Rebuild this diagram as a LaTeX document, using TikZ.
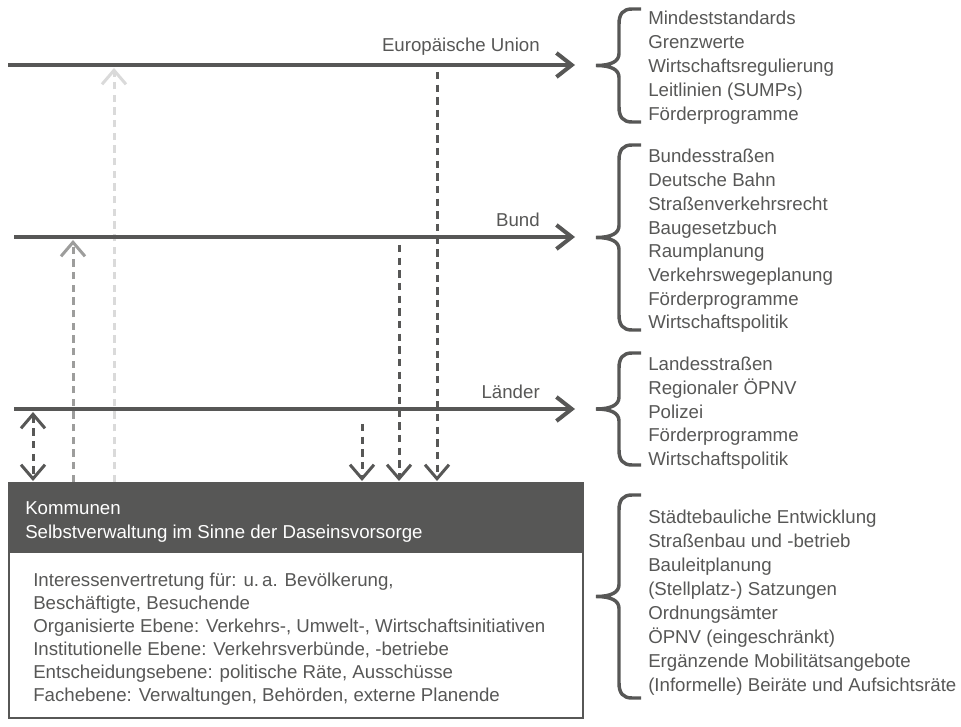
\documentclass[tikz,border=0pt]{standalone}
\usepackage{fontspec}
\setmainfont{Liberation Sans}
\usetikzlibrary{arrows.meta}
\definecolor{dk}{RGB}{87,87,86}
\definecolor{md}{RGB}{157,157,156}
\definecolor{lt}{RGB}{218,218,218}
\newcommand{\mybrace}[2]{%
  \pgfmathsetmacro{\bmid}{(#1+#2)/2}%
  \draw[bracestyle] (641,#1) -- (632,#1) .. controls (623,#1) and (619,{#1+5}) .. (619,{#1+15})
    -- (619,{\bmid-12}) .. controls (619,{\bmid-4}) and (611,\bmid) .. (596,\bmid)
    .. controls (611,\bmid) and (619,{\bmid+4}) .. (619,{\bmid+12})
    -- (619,{#2-15}) .. controls (619,{#2-5}) and (623,#2) .. (632,#2) -- (641,#2);}
\begin{document}
\begin{tikzpicture}[x=0.75pt,y=-0.75pt,
  txt/.style={inner sep=0pt, font=\fontsize{14pt}{17pt}\selectfont},
  mainline/.style={line width=3pt, draw=dk, -{Straight Barb[length=11.5pt,width=18pt]}},
  vdash/.style={line width=2.25pt, dash pattern=on 5.5pt off 4pt},
  tipdown/.style={-{Straight Barb[length=10.5pt,width=18pt]}},
  tipboth/.style={{Straight Barb[length=10.5pt,width=18pt]}-{Straight Barb[length=10.5pt,width=18pt]}},
  lbl/.style={txt, anchor=base east, text=dk},
  listitem/.style={txt, anchor=base west, text=dk},
  bracestyle/.style={draw=dk, line width=2.6pt}
]
\useasboundingbox (0,0) rectangle (961,727);

% coordinates of the level lines
\coordinate (euA) at (8,65);   \coordinate (euB) at (575,65);
\coordinate (bdA) at (14,237); \coordinate (bdB) at (575,237);
\coordinate (ldA) at (14,409); \coordinate (ldB) at (575,409);

% Kommunen box
\node[draw=dk, line width=1.5pt, minimum width=574*0.75pt, minimum height=235*0.75pt,
      anchor=north west, inner sep=0pt] (kbox) at (8,482) {};
\node[fill=dk, minimum width=574*0.75pt, minimum height=71*0.75pt,
      anchor=north west, inner sep=0pt] (khead) at (8,482) {};
\node[txt, anchor=base west, text=white] (kh1) at (25,514) {Kommunen};
\node[txt, anchor=base west, text=white] (kh2) at (25,538) {Selbstverwaltung im Sinne der Daseinsvorsorge};
\foreach \t [count=\i from 0] in {%
  {Interessenvertretung für: u.\,a. Bevölkerung,},
  {Beschäftigte, Besuchende},
  {Organisierte Ebene: Verkehrs-, Umwelt-, Wirtschaftsinitiativen},
  {Institutionelle Ebene: Verkehrsverbünde, -betriebe},
  {Entscheidungsebene: politische Räte, Ausschüsse},
  {Fachebene: Verwaltungen, Behörden, externe Planende}}
  \node[listitem] (kb\i) at (33,{586+23*\i}) {\t};

% box anchor points for vertical connectors
\coordinate (k33) at (33,481);
\coordinate (k73) at (73,482);
\coordinate (k114) at (114,482);
\coordinate (k362) at (362,481);
\coordinate (k399) at (399,481);
\coordinate (k437) at (437,481);
\coordinate (s362) at (362,424);
\coordinate (s399) at (399,245);
\coordinate (s437) at (437,72);
\coordinate (t33) at (33,412);
\coordinate (t73) at (73,240);
\coordinate (t114) at (114,68);

% vertical connectors
\draw[vdash, lt, tipdown] (k114) -- (t114);
\draw[vdash, md, tipdown] (k73) -- (t73);
\draw[vdash, dk, tipboth] (t33) -- (k33);
\draw[vdash, dk, tipdown] (s362) -- (k362);
\draw[vdash, dk, tipdown] (s399) -- (k399);
\draw[vdash, dk, tipdown] (s437) -- (k437);

% level lines
\draw[mainline] (euA) -- (euB);
\draw[mainline] (bdA) -- (bdB);
\draw[mainline] (ldA) -- (ldB);
\node[lbl] (euL) at (540,52) {Europäische Union};
\node[lbl] (bdL) at (540,227) {Bund};
\node[lbl] (ldL) at (540,398) {Länder};

% braces
\mybrace{9}{122}
\mybrace{145}{330}
\mybrace{353}{465}
\mybrace{495}{698}

% lists
\foreach \t [count=\i from 0] in {Mindeststandards, Grenzwerte, Wirtschaftsregulierung,
  Leitlinien (SUMPs), Förderprogramme}
  \node[listitem] (eu\i) at (648,{25+23.8*\i}) {\t};
\foreach \t [count=\i from 0] in {Bundesstraßen, Deutsche Bahn, Straßenverkehrsrecht,
  Baugesetzbuch, Raumplanung, Verkehrswegeplanung, Förderprogramme, Wirtschaftspolitik}
  \node[listitem] (bd\i) at (648,{163+23.7*\i}) {\t};
\foreach \t [count=\i from 0] in {Landesstraßen, Regionaler ÖPNV, Polizei,
  Förderprogramme, Wirtschaftspolitik}
  \node[listitem] (ld\i) at (648,{371+23.5*\i}) {\t};
\foreach \t [count=\i from 0] in {Städtebauliche Entwicklung, Straßenbau und -betrieb,
  Bauleitplanung, (Stellplatz-) Satzungen, Ordnungsämter, ÖPNV (eingeschränkt),
  Ergänzende Mobilitätsangebote, (Informelle) Beiräte und Aufsichtsräte}
  \node[listitem] (km\i) at (648,{523+24*\i}) {\t};
\end{tikzpicture}
\end{document}
